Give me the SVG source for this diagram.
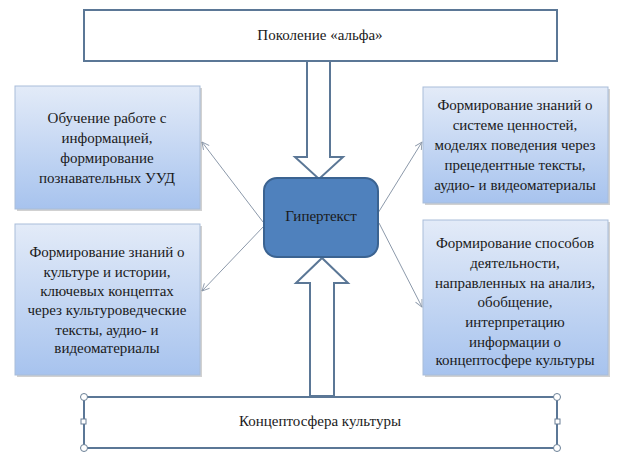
<svg xmlns="http://www.w3.org/2000/svg" width="626" height="456" viewBox="0 0 626 456" font-family="'Liberation Serif', 'DejaVu Serif', serif">
<style>
text{font-family:'Liberation Serif','DejaVu Serif','Times New Roman',serif;font-size:15px;fill:#1a1a1a;text-anchor:middle}
.frame{fill:#fff;stroke:#5b7796;stroke-width:2}
.blk{fill:url(#g);stroke:#a9bdd9;stroke-width:1}
.sh{fill:#000;opacity:.18}
.big{fill:#fff;stroke:#5b7796;stroke-width:2;stroke-linejoin:miter}
.con{stroke:#8c99aa;stroke-width:1;fill:none;marker-end:url(#ah)}
.hd{fill:#fff;stroke:#6a7f96;stroke-width:1}
.hs{fill:#fff;stroke:#6a7f96;stroke-width:1}
</style>
<defs>
<linearGradient id="g" x1="0" y1="0" x2="0" y2="1">
<stop offset="0" stop-color="#e3ebf8"/>
<stop offset="1" stop-color="#a7c3ee"/>
</linearGradient>
<marker id="ah" viewBox="0 0 10 10" refX="9" refY="5" markerWidth="9" markerHeight="9" orient="auto" markerUnits="userSpaceOnUse">
<path d="M1,1 L9,5 L1,9" fill="none" stroke="#8c99aa" stroke-width="1"/>
</marker>
</defs>

<g id="connectors">
<polygon class="big" points="307,61 330,61 330,157 343,157 319,179 295,157 307,157"/>
<polygon class="big" points="310,396 334,396 334,283 348,283 322,258 296,283 310,283"/>
<line class="con" x1="263" y1="222" x2="202" y2="142"/>
<line class="con" x1="264" y1="226" x2="202" y2="291"/>
<line class="con" x1="378" y1="213" x2="422" y2="142"/>
<line class="con" x1="379" y1="223" x2="422" y2="307"/>
</g>

<g id="top">
<rect class="frame" x="84" y="10" width="473" height="51"/>
<text x="320" y="40">Поколение «альфа»</text>
</g>

<g id="hyper">
<rect x="264" y="178" width="114" height="79" rx="13" fill="#4f81bd" stroke="#3b6391" stroke-width="2"/>
<text x="321" y="221">Гипертекст</text>
</g>

<g id="left1">
<rect class="sh" x="17" y="88" width="185" height="123"/>
<rect class="blk" x="15" y="86" width="185" height="123"/>
<text x="107" y="123">Обучение работе с</text>
<text x="107" y="143">информацией,</text>
<text x="107" y="163">формирование</text>
<text x="107" y="183">познавательных УУД</text>
</g>

<g id="left2">
<rect class="sh" x="17" y="226" width="185" height="151"/>
<rect class="blk" x="15" y="224" width="185" height="151"/>
<text x="107" y="257">Формирование знаний о</text>
<text x="107" y="277">культуре и истории,</text>
<text x="107" y="296">ключевых концептах</text>
<text x="107" y="315">через культуроведческие</text>
<text x="107" y="335">тексты, аудио- и</text>
<text x="107" y="353">видеоматериалы</text>
</g>

<g id="right1">
<rect class="sh" x="425" y="89" width="185" height="116"/>
<rect class="blk" x="423" y="87" width="185" height="116"/>
<text x="515" y="110">Формирование знаний о</text>
<text x="515" y="130">системе  ценностей,</text>
<text x="515" y="150">моделях поведения через</text>
<text x="515" y="170">прецедентные тексты,</text>
<text x="515" y="190">аудио- и видеоматериалы</text>
</g>

<g id="right2">
<rect class="sh" x="425" y="222" width="185" height="155"/>
<rect class="blk" x="423" y="220" width="185" height="155"/>
<text x="515" y="248">Формирование способов</text>
<text x="515" y="268">деятельности,</text>
<text x="515" y="288">направленных на анализ,</text>
<text x="515" y="307">обобщение,</text>
<text x="515" y="327">интерпретацию</text>
<text x="515" y="347">информации о</text>
<text x="515" y="365">концептосфере культуры</text>
</g>

<g id="bottom">
<rect class="frame" x="84" y="397" width="473" height="51"/>
<text x="320" y="426">Концептосфера культуры</text>
<circle class="hd" cx="84" cy="397" r="3.5"/>
<circle class="hd" cx="557" cy="397" r="3.5"/>
<circle class="hd" cx="84" cy="448" r="3.5"/>
<circle class="hd" cx="557" cy="448" r="3.5"/>
<rect class="hs" x="81" y="419" width="5" height="5"/>
<rect class="hs" x="555" y="419" width="5" height="5"/>
</g>
</svg>
